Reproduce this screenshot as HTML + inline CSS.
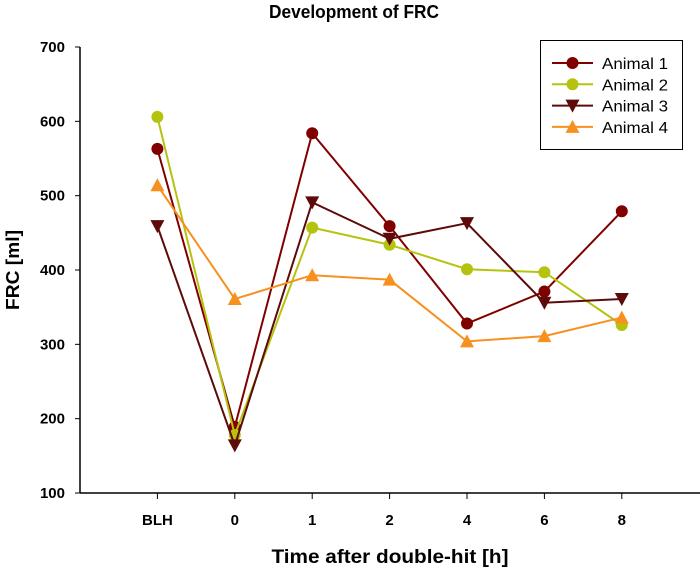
<!DOCTYPE html>
<html><head><meta charset="utf-8"><style>
body{margin:0;background:#fff;}
svg text{font-family:"Liberation Sans",Arial,sans-serif;}
</style></head><body>
<svg id="chart" width="700" height="568" viewBox="0 0 700 568">
<text x="354" y="18" text-anchor="middle" font-size="18" font-weight="bold" textLength="170" lengthAdjust="spacingAndGlyphs">Development of FRC</text>
<text transform="translate(19,270) rotate(-90)" text-anchor="middle" font-size="18" font-weight="bold" textLength="80" lengthAdjust="spacingAndGlyphs">FRC [ml]</text>
<text x="390" y="563" text-anchor="middle" font-size="19" font-weight="bold" textLength="237" lengthAdjust="spacingAndGlyphs">Time after double-hit [h]</text>
<g id="axes"></g>
<g id="series"></g>
<g>
<rect x="540.5" y="40.5" width="142" height="109" fill="#fff" stroke="#000" stroke-width="1"/>
<g id="legend"></g>
</g>
</svg>
<script>
const categories=["BLH","0","1","2","4","6","8"];
const yTicks=[100,200,300,400,500,600,700];
const seriesNames=["Animal 1","Animal 2","Animal 3","Animal 4"];
const animal1=[563,189,584,459,328,371,479];
const animal2=[606,178,457,434,401,397,326];
const animal3=[459,164,491,442,463,356,361];
const animal4=[514,361,393,387,304,311,336];
const colors=["#800000","#b5c30f","#5c0a0a","#f7901e"];
const markers=["circle","circle","down","up"];
const allSeries=[animal1,animal2,animal3,animal4];
const NS="http://www.w3.org/2000/svg";
const X0=80,XS=77.4,Y0=493,YT=47;
function xPos(i){return X0+XS*(i+1);}
function yPos(v){return Y0-(v-100)*(Y0-YT)/600;}
function mk(tag,attrs,parent){const e=document.createElementNS(NS,tag);for(const k in attrs)e.setAttribute(k,attrs[k]);parent.appendChild(e);return e;}
const axes=document.getElementById('axes');
let yl=mk('line',{x1:X0,y1:YT,x2:X0,y2:Y0,stroke:'#000','stroke-width':1.5},axes);


let xl=mk('line',{x1:X0,y1:Y0,x2:700,y2:Y0,stroke:'#000','stroke-width':1.5},axes);


yTicks.forEach(v=>{
 mk('line',{x1:X0-5,y1:yPos(v),x2:X0,y2:yPos(v),stroke:'#000'},axes);
 const t=mk('text',{x:X0-15,y:yPos(v)+5,'text-anchor':'end','font-size':15,'font-weight':'bold'},axes);
 t.textContent=v;
 
 
});
categories.forEach((c,i)=>{
 mk('line',{x1:xPos(i),y1:Y0,x2:xPos(i),y2:Y0+6,stroke:'#000'},axes);
 const t=mk('text',{x:xPos(i),y:Y0+32,'text-anchor':'middle','font-size':15,'font-weight':'bold'},axes);
 t.textContent=c;
 
 
});
function marker(type,x,y,color,parent){
 let e;
 if(type==='circle') e=mk('circle',{cx:x,cy:y,r:6,fill:color},parent);
 else if(type==='down') e=mk('polygon',{points:`${x-7},${y-6} ${x+7},${y-6} ${x},${y+7}`,fill:color},parent);
 else e=mk('polygon',{points:`${x-7},${y+6} ${x+7},${y+6} ${x},${y-7}`,fill:color},parent);
 return e;
}
const sg=document.getElementById('series');
const lg=document.getElementById('legend');
allSeries.forEach((vals,s)=>{
 const g=mk('g',{},sg);
 
 
 const pts=vals.map((v,i)=>xPos(i)+','+yPos(v)).join(' ');
 mk('polyline',{points:pts,fill:'none',stroke:colors[s],'stroke-width':2},g);
 vals.forEach((v,i)=>{
  const m=marker(markers[s],xPos(i),yPos(v),colors[s],g);
  
  
 });
 const ly=63+s*21.3;
 const le=mk('g',{},lg);
 
 
 mk('line',{x1:552,y1:ly,x2:593,y2:ly,stroke:colors[s],'stroke-width':2},le);
 marker(markers[s],572.5,ly,colors[s],le);
 const t=mk('text',{x:602,y:ly+6,'font-size':16,textLength:66,lengthAdjust:'spacingAndGlyphs'},le);
 t.textContent=seriesNames[s];
});
</script>
</body></html>
